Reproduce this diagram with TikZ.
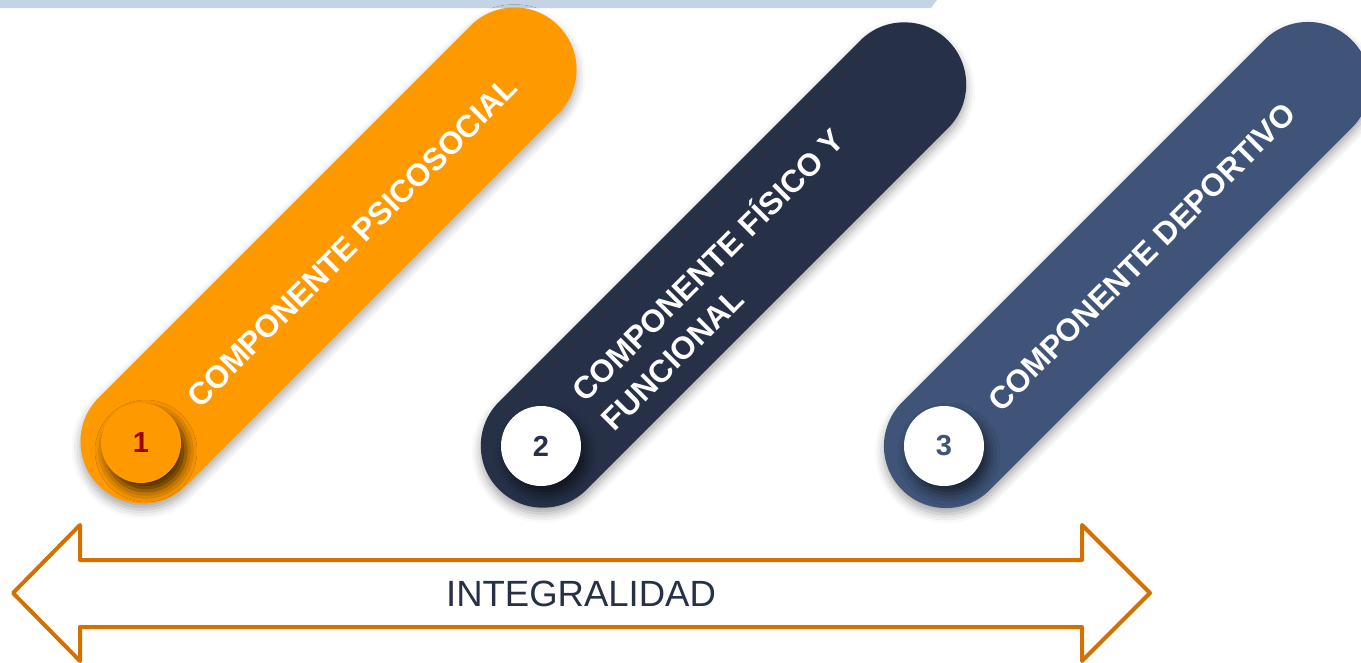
\documentclass[tikz,border=0pt]{standalone}
\usepackage{fontspec}
\setmainfont{Liberation Sans}
\usetikzlibrary{shadows.blur}
\definecolor{topband}{HTML}{C5D3E6}
\definecolor{orangeA}{HTML}{FE9900}
\definecolor{navyA}{HTML}{263148}
\definecolor{blueA}{HTML}{3F5478}
\definecolor{arrowc}{HTML}{D37000}
\definecolor{numred}{HTML}{A00000}
\begin{document}
\begin{tikzpicture}[x=1pt,y=-1pt,
  pill/.style={rectangle, rounded corners=61.9pt, minimum width=#1, minimum height=124pt, inner sep=0pt, rotate=45,
    blur shadow={shadow xshift=0pt, shadow yshift=-6pt, shadow blur radius=9pt, shadow opacity=35}},
  numc/.style={circle, minimum size=80pt, inner sep=0pt, font=\fontsize{29}{32}\selectfont\bfseries,
    blur shadow={shadow xshift=5pt, shadow yshift=-8pt, shadow blur radius=11pt, shadow opacity=#1}},
  numc/.default=60,
  lab/.style={rotate=45, text=white, font=\fontsize{31.5}{41}\selectfont\bfseries, inner sep=0pt, align=left},
  bigarrow/.style={draw=arrowc, line width=4pt, line join=round}
]
\useasboundingbox (0,0) rectangle (1361,662);
\fill[topband] (0,0) -- (937,0) -- (931,8) -- (0,8) -- cycle;

\node[pill=650pt, fill=orangeA] (p1) at (328.5,255.5) {};
\node[pill=635pt, fill=navyA] (p2) at (723.5,265) {};
\node[pill=636pt, fill=blueA] (p3) at (1127,265) {};

\node[numc=75, fill=orangeA, text=numred] (n1) at (141,443) {1};
\node[numc, fill=white, text=navyA] (n2) at (541,446) {2};
\node[numc, fill=white, text=blueA] (n3) at (944,446) {3};

\node[lab] (t1) at (352,242) {COMPONENTE PSICOSOCIAL};
\node[lab] (t2) at (721,278) {COMPONENTE FÍSICO Y\\FUNCIONAL};
\node[lab] (t3) at (1142,257) {COMPONENTE DEPORTIVO};

\draw[bigarrow] (13,593) -- (80,525) -- (80,560) -- (1082,560) -- (1082,525) -- (1150,593)
  -- (1082,661) -- (1082,627) -- (80,627) -- (80,661) -- cycle;
\node[font=\fontsize{36.5}{40}\selectfont, text=navyA, inner sep=0pt] (integ) at (581,594) {INTEGRALIDAD};
\end{tikzpicture}
\end{document}
